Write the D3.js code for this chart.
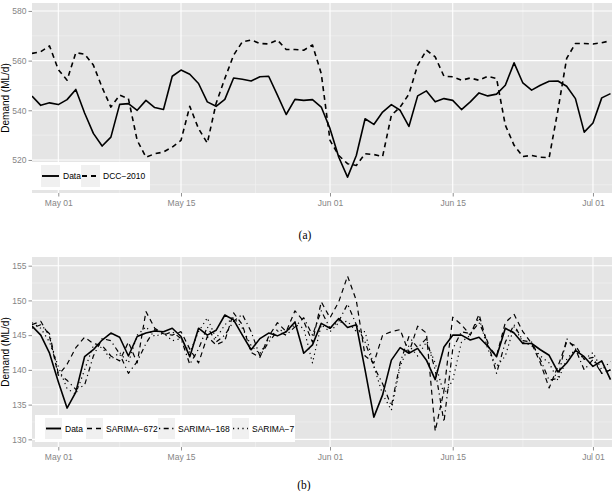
<!DOCTYPE html>
<html>
<head>
<meta charset="utf-8">
<script src="https://cdn.jsdelivr.net/npm/d3@7"></script>
<style>
  body { margin: 0; background: #fff; }
  text { font-family: "Liberation Sans", Arial, sans-serif; }
</style>
</head>
<body>
<svg id="chart" width="613" height="491"></svg>
<script>
// daily values, Apr 28 .. Jul 03
const firstDay = new Date(2011, 3, 28);
const lastDay = new Date(2011, 6, 3);
const days = d3.timeDay.range(firstDay, d3.timeDay.offset(lastDay, 1));

const tickDates = [new Date(2011, 4, 1), new Date(2011, 4, 15), new Date(2011, 5, 1), new Date(2011, 5, 15), new Date(2011, 6, 1)];

// panel (a)
const dataA = [545.7, 542.0, 543.0, 542.3, 544.3, 548.4, 538.9, 530.7, 525.6, 529.2, 542.4, 542.7, 540.0, 544.0, 541.1, 540.3,
  553.7, 556.2, 554.5, 550.8, 543.4, 541.6, 544.4, 553.0, 552.5, 551.8, 553.5, 553.7, 546.1, 538.3, 544.4, 544.0, 544.3, 541.3,
  532.6, 521.1, 513.1, 521.8, 536.6, 534.3, 539.3, 542.3, 540.0, 533.5, 545.8, 547.8, 543.4, 544.7, 544.0, 540.3, 543.4, 547.0,
  545.8, 546.5, 550.1, 559.1, 551.0, 548.1, 550.1, 551.7, 551.8, 549.7, 544.7, 531.2, 534.9, 545.0, 546.7];
const dcc2010 = [562.9, 563.6, 565.9, 556.4, 552.1, 563.2, 562.6, 558.2, 549.2, 541.3, 546.1, 544.7, 527.9, 521.1, 522.5, 523.2,
  525.2, 527.9, 541.6, 532.6, 526.8, 542.7, 552.8, 562.2, 567.6, 568.3, 566.9, 566.7, 568.3, 564.5, 564.5, 564.2, 566.3, 554.8,
  527.9, 521.8, 518.5, 517.8, 522.5, 522.2, 521.4, 538.0, 541.3, 546.5, 558.2, 564.2, 561.5, 553.7, 553.5, 552.1, 553.0, 552.1,
  553.7, 552.8, 534.0, 525.9, 521.4, 521.8, 521.1, 520.9, 540.0, 560.9, 566.9, 566.9, 566.7, 567.2, 568.0];
const ticksA = [520, 540, 560, 580];

// panel (b)
const dataB = [146.3, 145.0, 142.4, 138.3, 134.5, 136.8, 141.9, 142.9, 144.3, 145.3, 144.7, 142.0, 144.8, 145.3, 145.6, 145.5,
  146.0, 144.8, 141.9, 146.0, 145.0, 145.7, 147.9, 147.2, 145.0, 142.9, 144.5, 145.3, 144.9, 145.5, 146.9, 142.4, 143.6, 146.7,
  146.0, 147.4, 146.1, 146.5, 140.0, 133.2, 136.4, 141.4, 143.2, 142.4, 143.1, 141.4, 138.6, 143.3, 145.0, 145.0, 144.3, 144.7,
  143.4, 141.9, 146.0, 145.3, 143.8, 143.8, 142.9, 142.1, 139.7, 141.0, 142.8, 141.9, 140.5, 141.3, 138.6];
const sarima672 = [146.5, 147.0, 144.8, 139.2, 140.8, 143.2, 144.7, 143.8, 143.5, 142.0, 141.3, 144.0, 141.0, 148.4, 146.0, 145.2,
  145.0, 145.5, 143.0, 141.0, 144.8, 143.6, 144.2, 148.2, 146.5, 142.5, 141.8, 144.8, 146.8, 145.5, 148.5, 147.0, 144.0, 149.8,
  147.5, 149.8, 153.5, 150.0, 142.0, 141.0, 145.0, 145.5, 145.8, 142.5, 146.3, 145.3, 131.2, 137.0, 147.6, 146.5, 145.0, 148.0,
  143.5, 142.0, 146.8, 148.0, 145.5, 143.8, 141.0, 137.4, 140.5, 144.0, 143.5, 141.5, 141.8, 139.5, 140.0];
const sarima168 = [146.0, 146.5, 145.2, 139.5, 138.5, 137.2, 137.8, 142.0, 144.5, 144.2, 142.3, 139.5, 141.2, 143.8, 145.8, 145.0,
  145.5, 144.5, 140.8, 143.0, 146.2, 144.0, 145.0, 147.0, 148.0, 145.5, 142.0, 144.0, 145.6, 145.0, 146.2, 147.5, 145.0, 148.5,
  146.0, 147.0, 149.5, 146.5, 144.0, 140.5, 138.0, 134.8, 141.0, 144.8, 143.2, 144.5, 140.0, 132.5, 143.0, 145.5, 145.2, 146.8,
  144.0, 139.5, 144.0, 146.5, 144.2, 144.0, 141.5, 138.5, 138.8, 144.5, 143.0, 140.0, 141.5, 139.5, 140.0];
const sarima7 = [146.8, 146.0, 144.0, 140.5, 137.3, 136.5, 140.0, 143.5, 143.2, 141.5, 142.5, 141.0, 145.0, 146.2, 144.8, 145.3,
  144.2, 144.5, 142.5, 145.5, 147.5, 144.5, 146.5, 147.5, 146.0, 143.5, 142.3, 144.5, 145.8, 145.5, 146.5, 146.0, 141.0, 146.5,
  145.5, 146.8, 147.0, 145.5, 145.5, 140.5, 136.5, 134.2, 140.5, 143.5, 142.0, 144.0, 141.0, 136.5, 138.5, 144.0, 145.0, 147.5,
  143.0, 140.5, 142.0, 146.2, 144.0, 143.5, 142.0, 141.0, 138.5, 141.5, 143.0, 141.5, 142.5, 140.0, 141.2];
const ticksB = [130, 135, 140, 145, 150, 155];

const svg = d3.select("#chart");
const gridMajor = "#ffffff", gridMinor = "#f2f2f2", tickGray = "#858585";

function drawPanel(p) {
  const g = svg.append("g");
  const x = d3.scaleTime().domain([firstDay, lastDay]).range([p.left, p.right]);
  const y = d3.scaleLinear().domain(p.yDomain).range([p.bottom, p.top]);

  g.append("rect")
    .attr("x", p.left).attr("y", p.top)
    .attr("width", p.right - p.left + 1.5).attr("height", p.bottom - p.top)
    .attr("fill", "#e5e5e5");

  // minor grid at midpoints
  const minorY = d3.pairs(p.ticks).map(([a, b]) => (a + b) / 2);
  minorY.push(p.ticks[0] - (p.ticks[1] - p.ticks[0]) / 2);
  const minorX = d3.pairs(tickDates).map(([a, b]) => new Date((+a + +b) / 2));
  g.selectAll(".minY").data(minorY.filter(v => v > p.yDomain[0] && v < p.yDomain[1])).enter().append("line")
    .attr("x1", p.left).attr("x2", p.right + 1.5).attr("y1", d => y(d)).attr("y2", d => y(d))
    .attr("stroke", gridMinor).attr("stroke-width", 0.6);
  g.selectAll(".minX").data(minorX).enter().append("line")
    .attr("x1", d => x(d)).attr("x2", d => x(d)).attr("y1", p.top).attr("y2", p.bottom)
    .attr("stroke", gridMinor).attr("stroke-width", 0.6);
  g.selectAll(".majY").data(p.ticks).enter().append("line")
    .attr("x1", p.left).attr("x2", p.right + 1.5).attr("y1", d => y(d)).attr("y2", d => y(d))
    .attr("stroke", gridMajor).attr("stroke-width", 1.1);
  g.selectAll(".majX").data(tickDates).enter().append("line")
    .attr("x1", d => x(d)).attr("x2", d => x(d)).attr("y1", p.top).attr("y2", p.bottom)
    .attr("stroke", gridMajor).attr("stroke-width", 1.1);

  // series
  const clipId = "clip" + p.name;
  svg.append("clipPath").attr("id", clipId).append("rect")
    .attr("x", p.left).attr("y", p.top).attr("width", p.right - p.left + 1.5).attr("height", p.bottom - p.top);
  const line = d3.line().x((d, i) => x(days[i])).y(d => y(d));
  p.series.forEach(s => {
    g.append("path")
      .attr("clip-path", `url(#${clipId})`)
      .attr("d", line(s.values))
      .attr("fill", "none").attr("stroke", "#000")
      .attr("stroke-width", s.width)
      .attr("stroke-dasharray", s.dash)
      .attr("stroke-linejoin", "round");
  });

  // axes
  const ax = g.append("g")
    .attr("transform", `translate(0,${p.bottom})`)
    .call(d3.axisBottom(x).tickValues(tickDates).tickFormat(d3.timeFormat("%b %d")).tickSize(3.5).tickPadding(3));
  const ay = g.append("g")
    .attr("transform", `translate(${p.left},0)`)
    .call(d3.axisLeft(y).tickValues(p.ticks).tickSize(3.5).tickPadding(2));
  [ax, ay].forEach(a => {
    a.select(".domain").remove();
    a.selectAll("line").attr("stroke", tickGray).attr("stroke-width", 0.9);
    a.selectAll("text").attr("fill", tickGray).style("font-size", "8.5px").style("font-family", "Liberation Sans, Arial, sans-serif");
  });

  g.append("text")
    .attr("transform", `translate(8.5,${(p.top + p.bottom) / 2}) rotate(-90)`)
    .attr("text-anchor", "middle")
    .style("font-size", "10px")
    .text("Demand (ML/d)");

  // legend
  const L = p.legend;
  g.append("rect").attr("x", L.x).attr("y", L.y).attr("width", L.w).attr("height", L.h).attr("fill", "#fff");
  p.series.forEach((s, i) => {
    const kx = L.keyX[i];
    g.append("rect").attr("x", kx).attr("y", L.y + 3).attr("width", L.keyW).attr("height", L.h - 6)
      .attr("fill", "#f0f0f0");
    g.append("line").attr("x1", kx + 1).attr("x2", kx + L.keyW - 1)
      .attr("y1", L.y + L.h / 2).attr("y2", L.y + L.h / 2)
      .attr("stroke", "#000").attr("stroke-width", s.width + 0.3).attr("stroke-dasharray", s.dash);
    g.append("text").attr("x", kx + L.keyW + 3).attr("y", L.y + L.h / 2 + 3)
      .style("font-size", "8.5px").attr("fill", "#000").text(s.name);
  });

  svg.append("text")
    .attr("x", p.captionX).attr("y", p.captionY)
    .attr("text-anchor", "middle")
    .style("font-family", "Liberation Serif, Times New Roman, serif")
    .style("font-size", "11.5px")
    .text(p.caption);
}

drawPanel({
  name: "a", left: 32, right: 610.5, top: 3, bottom: 193,
  yDomain: [506.7, 583.2], ticks: ticksA,
  series: [
    { name: "Data", values: dataA, width: 1.6, dash: null },
    { name: "DCC\u22122010", values: dcc2010, width: 1.6, dash: "5,4" }
  ],
  legend: { x: 32, y: 162, w: 118, h: 28, keyW: 19, keyX: [41, 81] },
  caption: "(a)", captionX: 305, captionY: 239
});

drawPanel({
  name: "b", left: 32, right: 610.5, top: 257, bottom: 447,
  yDomain: [128.9, 156.25], ticks: ticksB,
  series: [
    { name: "Data", values: dataB, width: 1.6, dash: null },
    { name: "SARIMA\u2212672", values: sarima672, width: 1.2, dash: "5,4" },
    { name: "SARIMA\u2212168", values: sarima168, width: 1.2, dash: "1.2,3.5,5,3.5" },
    { name: "SARIMA\u22127", values: sarima7, width: 1.2, dash: "1.2,3.5" }
  ],
  legend: { x: 35, y: 415, w: 260, h: 27, keyW: 17, keyX: [45, 86, 158, 232] },
  caption: "(b)", captionX: 304, captionY: 489
});
</script>
</body>
</html>
